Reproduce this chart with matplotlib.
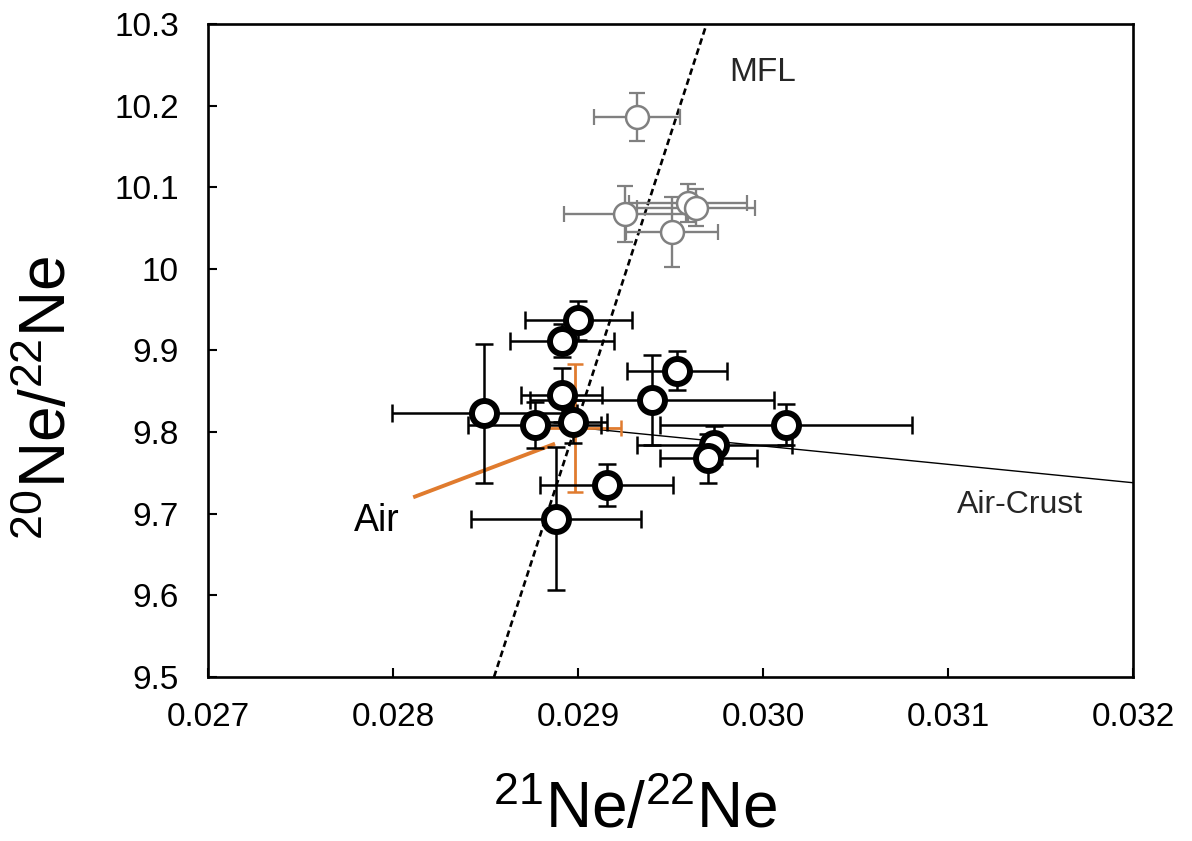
import numpy as np
import matplotlib
matplotlib.use("Agg")
import matplotlib.pyplot as plt
from matplotlib.ticker import FuncFormatter

plt.rcParams['font.family'] = ['Liberation Sans', 'DejaVu Sans']
plt.rcParams['mathtext.fontset'] = 'custom'
plt.rcParams['mathtext.rm'] = 'Liberation Sans'
plt.rcParams['mathtext.default'] = 'regular'

# grey samples (upper group)
grey_x = [0.029319, 0.029254, 0.029595, 0.029638, 0.029508]
grey_y = [10.186, 10.067, 10.081, 10.075, 10.045]
grey_xerr = [0.00023, 0.00033, 0.00032, 0.00032, 0.00025]
grey_yerr = [0.029, 0.034, 0.023, 0.023, 0.043]

# black samples
blk_x = [0.029002, 0.028912, 0.028912, 0.028494, 0.028765, 0.028975, 0.029398,
         0.029533, 0.030124, 0.029737, 0.029705, 0.029155, 0.028881]
blk_y = [9.937, 9.912, 9.845, 9.823, 9.809, 9.813, 9.839,
         9.875, 9.809, 9.784, 9.768, 9.735, 9.694]
blk_xerr = [0.00029, 0.00028, 0.00022, 0.00050, 0.00036, 0.00018, 0.00066,
            0.00027, 0.00068, 0.00042, 0.00026, 0.00036, 0.00046]
blk_yerr = [0.024, 0.020, 0.033, 0.085, 0.028, 0.026, 0.055,
            0.024, 0.025, 0.023, 0.030, 0.026, 0.088]

# air
air_x = [0.028984]
air_y = [9.805]
air_xerr = [0.00025]
air_yerr = [0.078]

# reference lines
mfl_x = [0.028546, 0.029695]
mfl_y = [9.5, 10.3]
crust_x = [0.02898, 0.032]
crust_y = [9.806, 9.738]
air_lbl_x = [0.028119, 0.028866]
air_lbl_y = [9.721, 9.785]

orange = '#E07B2E'
grey = '#808080'

fig = plt.figure(figsize=(11.92, 8.41), dpi=100)
ax = fig.add_axes([0.1745, 0.195, 0.776, 0.7765])

ax.plot(mfl_x, mfl_y, color='black', lw=1.9, ls=(0, (2.5, 1.5)), zorder=1)
ax.plot(crust_x, crust_y, color='black', lw=1.0, zorder=1)

# grey series
ax.errorbar(grey_x, grey_y, xerr=grey_xerr, yerr=grey_yerr, fmt='none',
            ecolor=grey, elinewidth=1.7, capsize=6, capthick=1.6, zorder=2)
ax.plot(grey_x, grey_y, 'o', ms=16.5, mfc='white', mec=grey, mew=1.8, zorder=2.1)

# air
ax.errorbar(air_x, air_y, xerr=air_xerr, yerr=air_yerr, fmt='none',
            ecolor=orange, elinewidth=2, capsize=6, capthick=1.8, zorder=2.5)
ax.plot(air_x, air_y, 'D', ms=7, color=orange, zorder=2.5)
ax.plot(air_lbl_x, air_lbl_y, color=orange, lw=2.8, zorder=2.5)

# black series
ax.errorbar(blk_x, blk_y, xerr=blk_xerr, yerr=blk_yerr, fmt='none',
            ecolor='black', elinewidth=1.8, capsize=6.5, capthick=1.8, zorder=3)
ax.plot(blk_x, blk_y, 'o', ms=18, mfc='white', mec='black', mew=4.3, zorder=3.1)

ax.text(0.0300, 10.241, 'MFL', fontsize=24, color='#262626', ha='center', va='center')
ax.text(0.031389, 9.711, 'Air-Crust', fontsize=23, color='#262626', ha='center', va='center')
ax.text(0.027914, 9.691, 'Air', fontsize=27, color='black', ha='center', va='center')

ax.set_xlim(0.027, 0.032)
ax.set_ylim(9.5, 10.3)
ax.set_xticks(np.arange(0.027, 0.03201, 0.001))
ax.set_yticks(np.arange(9.5, 10.301, 0.1))
ax.xaxis.set_major_formatter(FuncFormatter(lambda v, p: '%.3f' % v))
ax.yaxis.set_major_formatter(FuncFormatter(lambda v, p: '%g' % round(v, 1)))
ax.tick_params(axis='x', direction='in', length=6.5, width=1.5, labelsize=24, pad=18)
ax.tick_params(axis='y', direction='in', length=6.5, width=1.5, labelsize=24, pad=21)
for s in ax.spines.values():
    s.set_linewidth(1.9)

ax.set_xlabel(r'$^{21}$Ne/$^{22}$Ne', fontsize=46, va='center', ha='center')
ax.xaxis.set_label_coords(0.4616, -0.205)
ax.set_ylabel(r'$^{20}$Ne/$^{22}$Ne', fontsize=46, va='center', ha='center')
ax.yaxis.set_label_coords(-0.172, 0.427)

fig.savefig('out.png', dpi=100)
